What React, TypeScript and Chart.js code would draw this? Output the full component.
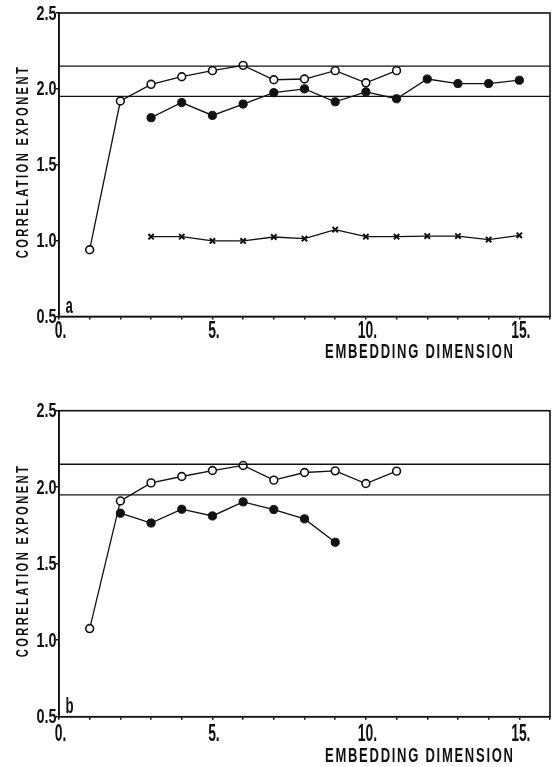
import { useEffect, useRef } from 'react';
import { Chart, registerables } from 'chart.js';
Chart.register(...registerables);

// ---------- data ----------
const xMin = 0;
const xMax = 16;
const yMin = 0.5;
const yMax = 2.5;
const xTickValues = [0, 5, 10, 15];
const xTickLabels = ['0.', '5.', '10.', '15.'];
const yTickValues = [0.5, 1.0, 1.5, 2.0, 2.5];
const yTickLabels = ['0.5', '1.0', '1.5', '2.0', '2.5'];
const referenceLevels = [2.15, 1.95];

const aOpenDims = [1, 2, 3, 4, 5, 6, 7, 8, 9, 10, 11];
const aOpenVals = [0.94, 1.92, 2.03, 2.08, 2.12, 2.155, 2.06, 2.065, 2.12, 2.04, 2.12];
const aFilledDims = [3, 4, 5, 6, 7, 8, 9, 10, 11, 12, 13, 14, 15];
const aFilledVals = [1.81, 1.91, 1.825, 1.9, 1.975, 2.0, 1.915, 1.98, 1.935, 2.065, 2.035, 2.035, 2.057];
const aCrossDims = [3, 4, 5, 6, 7, 8, 9, 10, 11, 12, 13, 14, 15];
const aCrossVals = [1.026, 1.026, 0.998, 0.998, 1.024, 1.013, 1.073, 1.026, 1.026, 1.03, 1.03, 1.007, 1.035];

const bOpenDims = [1, 2, 3, 4, 5, 6, 7, 8, 9, 10, 11];
const bOpenVals = [1.076, 1.91, 2.028, 2.07, 2.109, 2.142, 2.046, 2.096, 2.107, 2.024, 2.105];
const bFilledDims = [2, 3, 4, 5, 6, 7, 8, 9];
const bFilledVals = [1.83, 1.766, 1.856, 1.812, 1.904, 1.854, 1.793, 1.64];

const xTitle = 'EMBEDDING DIMENSION';
const yTitle = 'CORRELATION EXPONENT';

// ---------- style ----------
const FONT = "'Liberation Sans', Arial, sans-serif";
const INK = '#111';

function pts(xs: number[], ys: number[]) {
  return xs.map((x, i) => ({ x, y: ys[i] }));
}

function txt(
  ctx: CanvasRenderingContext2D,
  s: string,
  x: number,
  y: number,
  size: number,
  sx: number,
  align: 'left' | 'center' | 'right',
  target?: number,
) {
  const anyCtx = ctx as any;
  ctx.save();
  ctx.translate(x, y);
  ctx.scale(sx, 1);
  ctx.font = `bold ${size}px ${FONT}`;
  ctx.textBaseline = 'alphabetic';
  ctx.textAlign = 'left';
  anyCtx.letterSpacing = '0px';
  const w0 = ctx.measureText(s).width;
  let sp = 0;
  if (target && s.length > 1) sp = (target / sx - w0) / (s.length - 1);
  const w = w0 + sp * (s.length - 1);
  anyCtx.letterSpacing = sp + 'px';
  const start = align === 'left' ? 0 : align === 'center' ? -w / 2 : -w;
  ctx.fillText(s, start, 0);
  anyCtx.letterSpacing = '0px';
  ctx.restore();
}

type PanelCfg = {
  letter: string;
  padTop: number;
  plotH: number;
  canvasH: number;
  xLabelDy: number;
  xTitleDy: number;
  series: { data: { x: number; y: number }[]; kind: 'open' | 'filled' | 'cross' }[];
};

function makeChart(canvas: HTMLCanvasElement, cfg: PanelCfg) {
  const datasets: any[] = [];
  referenceLevels.forEach((lvl) => {
    datasets.push({
      data: [{ x: xMin, y: lvl }, { x: xMax, y: lvl }],
      borderColor: INK,
      borderWidth: 1.3,
      pointRadius: 0,
      fill: false,
    });
  });
  cfg.series.forEach((s) => {
    const base: any = {
      data: s.data,
      borderColor: INK,
      borderWidth: 1.3,
      fill: false,
      tension: 0,
    };
    if (s.kind === 'open') {
      base.pointStyle = 'circle';
      base.pointRadius = 3.9;
      base.pointBackgroundColor = '#fff';
      base.pointBorderColor = INK;
      base.pointBorderWidth = 1.6;
    } else if (s.kind === 'filled') {
      base.pointStyle = 'circle';
      base.pointRadius = 4.1;
      base.pointBackgroundColor = INK;
      base.pointBorderColor = INK;
      base.pointBorderWidth = 1;
    } else {
      base.pointStyle = 'crossRot';
      base.pointRadius = 3.8;
      base.pointBorderColor = INK;
      base.pointBorderWidth = 2;
    }
    datasets.push(base);
  });

  const xAxisH = cfg.canvasH - cfg.padTop - cfg.plotH;

  const decor = {
    id: 'decor',
    afterDraw(chart: any) {
      const { ctx, chartArea, scales } = chart;
      const { left, top, right, bottom } = chartArea;
      ctx.save();
      ctx.strokeStyle = INK;
      ctx.lineWidth = 1.6;
      ctx.strokeRect(left, top, right - left, bottom - top);
      ctx.fillStyle = INK;
      // tick labels
      xTickValues.forEach((v, i) => {
        const px = scales.x.getPixelForValue(v);
        txt(ctx, xTickLabels[i], px + 1.5, bottom + cfg.xLabelDy, 24, 0.58, 'center');
      });
      yTickValues.forEach((v, i) => {
        const py = scales.y.getPixelForValue(v);
        txt(ctx, yTickLabels[i], left - 2.5, py + 6.5, 19.5, 0.74, 'right');
      });
      // panel letter
      txt(ctx, cfg.letter, left + 6.5, bottom - 3.5, 22, 0.6, 'left');
      // x title
      txt(ctx, xTitle, 325, bottom + cfg.xTitleDy, 21, 0.62, 'left', 188);
      // y title
      ctx.save();
      ctx.translate(28, (top + bottom) / 2 - 2);
      ctx.rotate(-Math.PI / 2);
      txt(ctx, yTitle, 0, 0, 16.5, 0.68, 'center', 191);
      ctx.restore();
      ctx.restore();
    },
  };

  return new Chart(canvas, {
    type: 'line',
    data: { datasets },
    options: {
      animation: false,
      responsive: false,
      events: [],
      layout: { padding: { top: cfg.padTop, right: 6, left: 0, bottom: 0 } },
      plugins: { legend: { display: false }, tooltip: { enabled: false } },
      scales: {
        x: {
          type: 'linear',
          min: xMin,
          max: xMax,
          afterFit: (s: any) => {
            s.height = xAxisH;
          },
          ticks: { stepSize: 1, autoSkip: false, maxRotation: 0, display: false },
          grid: { drawOnChartArea: false, drawTicks: true, tickLength: 3, color: INK, lineWidth: 1.5 },
          border: { color: INK, width: 1.6 },
        },
        y: {
          type: 'linear',
          min: yMin,
          max: yMax,
          afterFit: (s: any) => {
            s.width = 59;
          },
          ticks: { stepSize: 0.5, display: false },
          grid: { drawOnChartArea: false, drawTicks: true, tickLength: 3, color: INK, lineWidth: 1.5 },
          border: { color: INK, width: 1.6 },
        },
      },
    },
    plugins: [decor],
  } as any);
}

export default function App() {
  const topRef = useRef<HTMLCanvasElement>(null);
  const botRef = useRef<HTMLCanvasElement>(null);

  useEffect(() => {
    const c1 = makeChart(topRef.current!, {
      letter: 'a',
      padTop: 13,
      plotH: 303.5,
      canvasH: 370,
      xLabelDy: 21.5,
      xTitleDy: 41.5,
      series: [
        { data: pts(aOpenDims, aOpenVals), kind: 'open' },
        { data: pts(aFilledDims, aFilledVals), kind: 'filled' },
        { data: pts(aCrossDims, aCrossVals), kind: 'cross' },
      ],
    });
    const c2 = makeChart(botRef.current!, {
      letter: 'b',
      padTop: 12.7,
      plotH: 306,
      canvasH: 369,
      xLabelDy: 24.5,
      xTitleDy: 45,
      series: [
        { data: pts(bOpenDims, bOpenVals), kind: 'open' },
        { data: pts(bFilledDims, bFilledVals), kind: 'filled' },
      ],
    });
    return () => {
      c1.destroy();
      c2.destroy();
    };
  }, []);

  return (
    <div style={{ position: 'absolute', left: 0, top: 0, width: 556, height: 767, background: '#fff' }}>
      <canvas ref={topRef} width={556} height={370} style={{ position: 'absolute', left: 0, top: 0, width: 556, height: 370 }} />
      <canvas ref={botRef} width={556} height={369} style={{ position: 'absolute', left: 0, top: 398, width: 556, height: 369 }} />
    </div>
  );
}
